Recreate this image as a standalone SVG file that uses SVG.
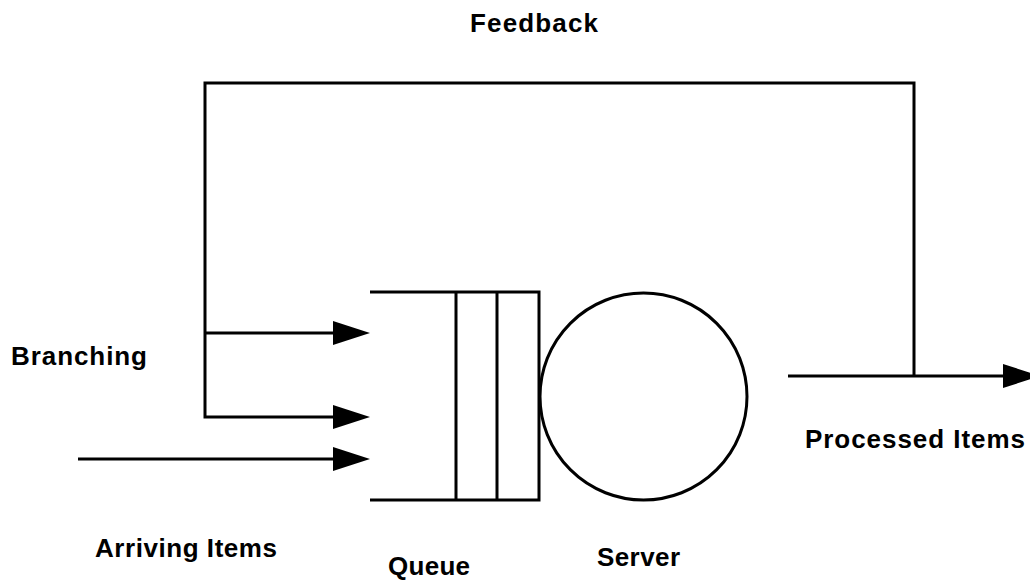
<svg xmlns="http://www.w3.org/2000/svg" width="1030" height="583" viewBox="0 0 1030 583">
  <style>
    .wire { fill: none; stroke: #000; stroke-width: 3; stroke-linejoin: miter; }
    .shape { fill: #fff; stroke: #000; stroke-width: 3; }
    .label { font-family: "Liberation Sans", Arial, sans-serif; font-size: 26px; font-weight: bold; fill: #000; }
  </style>
  <defs>
    <marker id="head" markerUnits="userSpaceOnUse" markerWidth="40" markerHeight="26" refX="0" refY="12" orient="auto" overflow="visible">
      <path d="M0,0 L37,12 L0,24 Z" fill="#000"/>
    </marker>
  </defs>

  <rect width="1030" height="583" fill="#fff"/>

  <!-- connectors -->
  <g id="connectors">
    <!-- feedback loop from output back to the queue entry -->
    <path class="wire" d="M914,376 V83 H205 V417 H333" marker-end="url(#head)"/>
    <!-- branch into queue -->
    <path class="wire" d="M205,333 H333" marker-end="url(#head)"/>
    <!-- arrivals -->
    <path class="wire" d="M78,459 H333" marker-end="url(#head)"/>
    <!-- departures -->
    <path class="wire" d="M788,376 H1003" marker-end="url(#head)"/>
  </g>

  <!-- queue: open-ended buffer with two slots -->
  <g id="queue">
    <path class="wire" d="M370,292 H539 V500 H370"/>
    <path class="wire" d="M456,292 V500 M497,292 V500"/>
  </g>

  <!-- server -->
  <g id="server">
    <circle class="shape" cx="643.5" cy="396.5" r="103.5"/>
  </g>

  <!-- labels -->
  <g id="labels">
    <text class="label" x="470" y="32" textLength="128" lengthAdjust="spacing">Feedback</text>
    <text class="label" x="11" y="365" textLength="136" lengthAdjust="spacing">Branching</text>
    <text class="label" x="805" y="448" textLength="220" lengthAdjust="spacing">Processed Items</text>
    <text class="label" x="95" y="557" textLength="182" lengthAdjust="spacing">Arriving Items</text>
    <text class="label" x="388" y="575" textLength="82" lengthAdjust="spacing">Queue</text>
    <text class="label" x="597" y="566" textLength="83" lengthAdjust="spacing">Server</text>
  </g>
</svg>
